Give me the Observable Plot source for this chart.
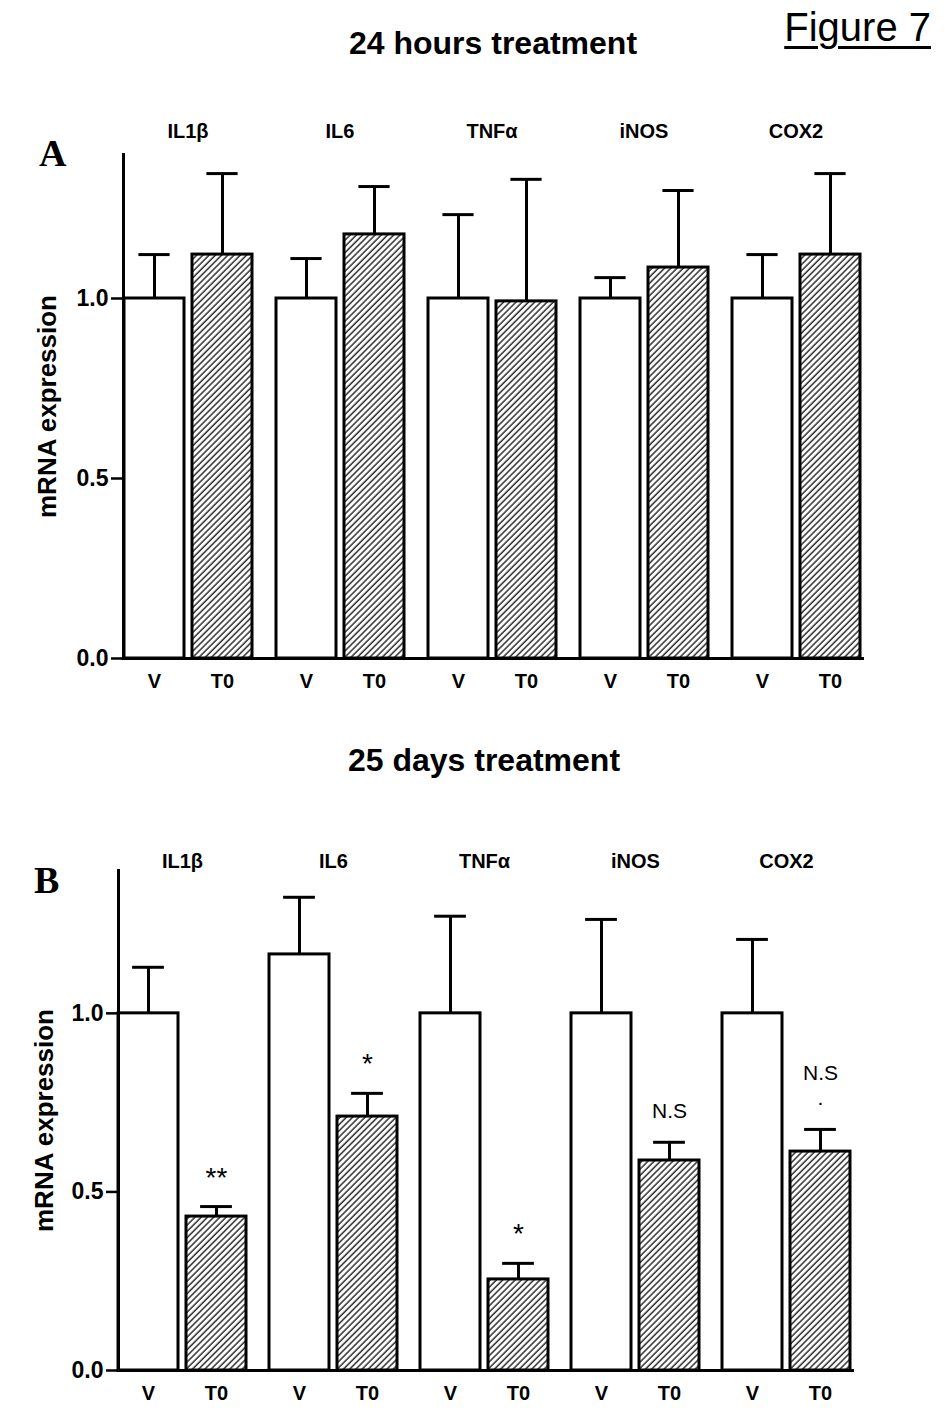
<!DOCTYPE html>
<html>
<head>
<meta charset="utf-8">
<script src="https://cdn.jsdelivr.net/npm/d3@7"></script>
<script src="https://cdn.jsdelivr.net/npm/@observablehq/plot@0.6"></script>
<style>
  html, body { margin: 0; padding: 0; background: #fff; }
  #page { position: relative; width: 945px; height: 1421px; overflow: hidden; font-family: "Liberation Sans", Arial, sans-serif; color: #000; background: #fff; }
  .abs { position: absolute; white-space: nowrap; z-index: 2; }
  .title { font-family: "Liberation Sans Narrow", "Liberation Sans", Arial, sans-serif; font-weight: bold; font-size: 32px; transform: translateX(-50%); }
  .fig { font-family: "Liberation Sans Narrow", "Liberation Sans", Arial, sans-serif; font-size: 40px; text-decoration: underline; text-decoration-thickness: 3px; text-underline-offset: 5px; }
  .letter { font-family: "Liberation Serif", "Times New Roman", serif; font-weight: bold; font-size: 38px; }
  .plot { position: absolute; left: 0; z-index: 1; }
</style>
</head>
<body>
<div id="page">
  <div id="plotA" class="plot" style="top:100px;"></div>
  <div id="plotB" class="plot" style="top:800px;"></div>
  <div class="abs fig" style="right:14px; top:5px;">Figure 7</div>
  <div class="abs title" style="left:493px; top:25px;">24 hours treatment</div>
  <div class="abs letter" style="left:39px; top:131px;">A</div>
  <div class="abs title" style="left:484px; top:742px;">25 days treatment</div>
  <div class="abs letter" style="left:34px; top:858px;">B</div>
</div>
<script>
// ---------- data ----------
const genes = ["IL1β", "IL6", "TNFα", "iNOS", "COX2"];
const groups = ["V", "T0"];
const yTicks = [0, 0.5, 1.0];

// Panel A: 24 hours treatment
const aMeanV = [1.0, 1.0, 1.0, 1.0, 1.0];
const aErrV  = [0.122, 0.111, 0.233, 0.058, 0.122];
const aMeanT0 = [1.122, 1.178, 0.992, 1.086, 1.122];
const aErrT0  = [0.225, 0.133, 0.339, 0.214, 0.225];
const aSig = ["", "", "", "", ""];

// Panel B: 25 days treatment
const bMeanV = [1.0, 1.165, 1.0, 1.0, 1.0];
const bErrV  = [0.129, 0.160, 0.272, 0.263, 0.207];
const bMeanT0 = [0.431, 0.711, 0.255, 0.588, 0.613];
const bErrT0  = [0.028, 0.065, 0.045, 0.051, 0.062];
const bSig = ["**", "*", "*", "N.S", "N.S\n."];

function makeRows(meanV, errV, meanT, errT, sig) {
  const rows = [];
  genes.forEach((g, i) => {
    rows.push({gene: g, group: "V", mean: meanV[i], err: errV[i], sig: ""});
    rows.push({gene: g, group: "T0", mean: meanT[i], err: errT[i], sig: sig[i]});
  });
  return rows;
}

function panel(rows, o) {
  const width = 945;
  const fxPad = 0.15;
  const W = width - o.marginLeft - o.marginRight;
  const step = W / (genes.length - fxPad);
  const gap = step * fxPad;
  const band = step - gap;
  const xStep = band / (2 - 0.12);
  const xBand = xStep * (1 - 0.12);
  const capInset = (xBand - 32) / 2;
  const patId = "hatch" + o.id;
  const baseInner = genes.slice(0, -1).map(g => ({gene: g}));
  const baseLast = genes.slice(-1).map(g => ({gene: g}));

  const svg = Plot.plot({
    width, height: o.height,
    marginTop: o.marginTop, marginBottom: o.marginBottom,
    marginLeft: o.marginLeft, marginRight: o.marginRight,
    style: {fontFamily: "'Liberation Sans', Arial, sans-serif", color: "#000", background: "transparent", overflow: "visible"},
    fx: {domain: genes, padding: fxPad},
    x: {domain: groups, paddingInner: 0.12, paddingOuter: 0},
    y: {domain: [0, 1.4]},
    color: {type: "identity"},
    marks: [
      Plot.ruleX(rows, {fx: "gene", x: "group", y1: "mean", y2: d => d.mean + d.err, stroke: "#000", strokeWidth: 3}),
      Plot.tickY(rows, {fx: "gene", x: "group", y: d => d.mean + d.err, stroke: "#000", strokeWidth: 3, insetLeft: capInset, insetRight: capInset}),
      Plot.barY(rows, {fx: "gene", x: "group", y: "mean",
        fill: d => d.group === "V" ? "white" : `url(#${patId})`,
        stroke: "#000", strokeWidth: 3}),
      Plot.text(rows.filter(d => d.sig.includes("*")), {fx: "gene", x: "group", y: d => d.mean + d.err, text: "sig",
        lineAnchor: "bottom", dy: -20, fontSize: 28, fill: "#000"}),
      Plot.text(rows.filter(d => d.sig.startsWith("N")), {fx: "gene", x: "group", y: d => d.mean + d.err, text: "sig",
        lineAnchor: "bottom", dy: -24, fontSize: 21, lineHeight: 1.2, fill: "#000"}),
      Plot.ruleY(baseInner, {fx: "gene", y: () => 0, stroke: "#000", strokeWidth: 3, insetLeft: -1.5, insetRight: -gap - 1}),
      Plot.ruleY(baseLast, {fx: "gene", y: () => 0, stroke: "#000", strokeWidth: 3, insetLeft: -1.5, insetRight: -4}),
      Plot.frame({anchor: "left", facetAnchor: "left", stroke: "#000", strokeWidth: 3}),
      Plot.axisY({ticks: yTicks, tickFormat: d3.format(".1f"), tickSize: 12, tickPadding: 3,
        fontSize: 23, fontWeight: "bold", strokeWidth: 2.5, label: null}),
      Plot.text(["mRNA expression"], {frameAnchor: "left", facetAnchor: "left", rotate: -90, textAnchor: "middle",
        dx: -o.labelOffset, fontSize: 26, fontWeight: "bold", fill: "#000"}),
      Plot.axisX({tickSize: 0, tickPadding: 15, fontSize: 20, fontWeight: "bold", label: null}),
      Plot.axisFx({anchor: "top", tickSize: 0, tickPadding: o.genePad, fontSize: 20, fontWeight: "bold", label: null,
        fontFamily: "'Liberation Sans Narrow', 'Liberation Sans', Arial, sans-serif"})
    ]
  });

  const ns = "http://www.w3.org/2000/svg";
  const defs = document.createElementNS(ns, "defs");
  defs.innerHTML = `<pattern id="${patId}" patternUnits="userSpaceOnUse" width="4.4" height="4.4" patternTransform="rotate(45)">
      <rect width="4.4" height="4.4" fill="white"/>
      <line x1="1" y1="0" x2="1" y2="4.4" stroke="#111" stroke-width="1.3"/>
    </pattern>`;
  svg.insertBefore(defs, svg.firstChild);
  return svg;
}

const rowsA = makeRows(aMeanV, aErrV, aMeanT0, aErrT0, aSig);
const rowsB = makeRows(bMeanV, bErrV, bMeanT0, bErrT0, bSig);

document.getElementById("plotA").appendChild(panel(rowsA, {
  id: "A", height: 620, marginTop: 54, marginBottom: 62, marginLeft: 121, marginRight: 83,
  genePad: 17, labelOffset: 76
}));
document.getElementById("plotB").appendChild(panel(rowsB, {
  id: "B", height: 621, marginTop: 70, marginBottom: 51, marginLeft: 117, marginRight: 94,
  genePad: 3, labelOffset: 74
}));
</script>
</body>
</html>
